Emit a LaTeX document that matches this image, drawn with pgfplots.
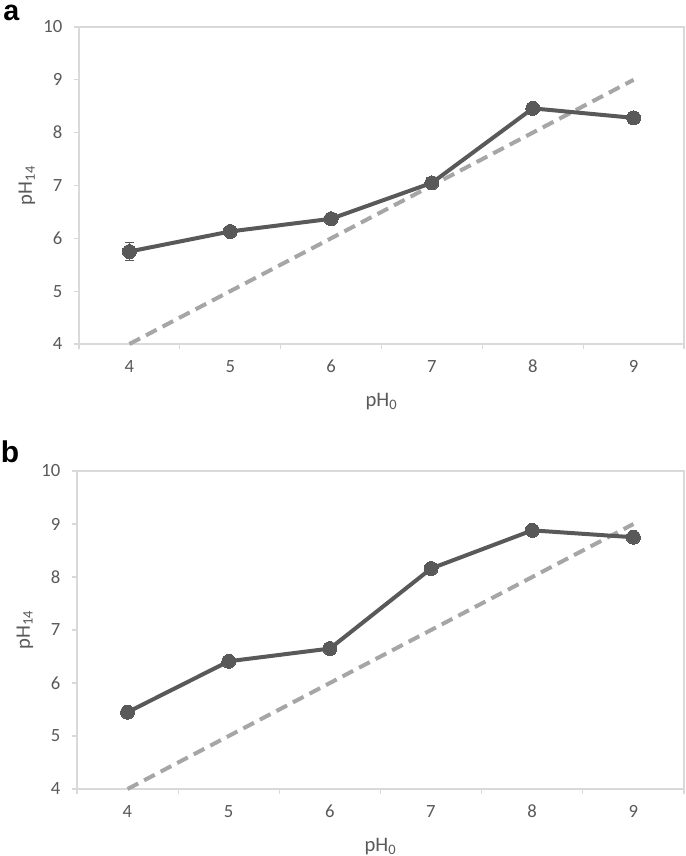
\documentclass[border=0pt]{standalone}
\usepackage{pgfplots}
\pgfplotsset{compat=1.18}
\usepackage{fontspec}
\setmainfont{Carlito}
\newfontfamily\panelfont{Liberation Sans}

\definecolor{ln}{HTML}{595959}
\definecolor{dsh}{HTML}{A6A6A6}
\definecolor{frm}{HTML}{D9D9D9}

% one panel of the figure, 1px = 0.75pt
\pgfplotsset{
  panel/.style={
    scale only axis,
    xmin=3.5, xmax=9.5, ymin=4, ymax=10,
    xtick={3.5,4.5,...,9.5},
    xticklabels={4,5,6,7,8,9,{}},
    ytick={4,5,...,10},
    xtick pos=bottom, ytick pos=left,
    tick align=outside,
    major tick length=4pt,
    tick style={draw=frm, line width=0.8pt},
    axis line style={draw=frm, line width=1.2pt},
    /pgf/number format/assume math mode=true,
    tick label style={font=\fontsize{14}{16}\selectfont, text=ln},
    xticklabel style={anchor=center, xshift=37.8pt, yshift=-13pt},
    yticklabel style={anchor=east, xshift=-5pt},
    label style={font=\fontsize{15.5}{18}\selectfont, text=ln},
    xlabel={pH\textsubscript{0}},
    ylabel={pH\textsubscript{14}},
    xlabel style={at={(axis description cs:0.5,0)}, anchor=center, yshift=-43pt},
    ylabel style={at={(axis description cs:-0.086,0.5)}, anchor=center, rotate=0},
    clip=false,
  },
  meas/.style={
    color=ln, line width=3pt, mark=*, mark size=5.25pt,
    mark options={fill=ln, draw=ln, line width=0pt},
    error bars/.cd, y dir=both, y explicit,
    error bar style={line width=1.2pt, ln},
    error mark options={rotate=90, mark size=3.5pt, line width=1.2pt, ln},
  },
  ident/.style={
    color=dsh, line width=3pt, dash pattern=on 9pt off 5pt, no marks,
  },
}

\begin{document}
\begin{tikzpicture}
\useasboundingbox (0,0) rectangle (513.75pt,642pt);

\node[anchor=base west, text=black, inner sep=0pt]
  at (2.25pt,626.25pt) {\panelfont\bfseries\fontsize{21.5}{22}\selectfont a};
\node[anchor=base west, text=black, inner sep=0pt]
  at (0.5pt,294.75pt) {\panelfont\bfseries\fontsize{22.5}{23}\selectfont b};

% panel a
\begin{axis}[panel, at={(59.25pt,384pt)}, anchor=south west,
             width=453.75pt, height=237.75pt]
  \addplot[ident] coordinates {(4,4) (9,9)};
  \addplot[meas] coordinates {
    (4,5.75) +- (0,0.17)
    (5,6.13) +- (0,0.03)
    (6,6.37) +- (0,0.03)
    (7,7.05) +- (0,0.04)
    (8,8.46) +- (0,0.04)
    (9,8.28) +- (0,0.03)
  };
\end{axis}

% panel b
\begin{axis}[panel, at={(57.75pt,50.25pt)}, anchor=south west,
             width=455.25pt, height=238.5pt]
  \addplot[ident] coordinates {(4,4) (9,9)};
  \addplot[meas] coordinates {
    (4,5.45) +- (0,0.07)
    (5,6.41) +- (0,0.03)
    (6,6.65) +- (0,0.03)
    (7,8.16) +- (0,0.04)
    (8,8.88) +- (0,0.03)
    (9,8.75) +- (0,0.04)
  };
\end{axis}
\end{tikzpicture}
\end{document}
